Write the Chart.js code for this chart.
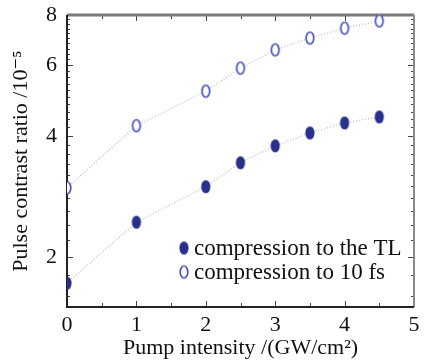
<!DOCTYPE html>
<html>
<head>
<meta charset="utf-8">
<script src="https://cdn.jsdelivr.net/npm/chart.js@4/dist/chart.umd.min.js"></script>
<style>
  html, body { margin: 0; padding: 0; background: #fff; }
  #wrap { width: 425px; height: 361px; }
</style>
</head>
<body>
<div id="wrap"><canvas id="chart" width="425" height="361"></canvas></div>
<script>
// данные с картинки
const pumpIntensity = [0, 1, 2, 2.5, 3, 3.5, 4, 4.5];
const contrastTL = [1.72, 2.44, 2.99, 3.43, 3.78, 4.07, 4.31, 4.46];
const contrast10fs = [2.97, 4.24, 5.17, 5.90, 6.55, 7.01, 7.42, 7.73];
const seriesNames = ['compression to the TL', 'compression to 10 fs'];
const yTicks = [2, 4, 6, 8];
const xTicks = [0, 1, 2, 3, 4, 5];

const serif = '"Liberation Serif", "DejaVu Serif", serif';

// маркеры-эллипсы
function ellipseMarker(filled) {
  const c = document.createElement('canvas');
  c.width = 12; c.height = 15;
  const g = c.getContext('2d');
  g.beginPath();
  g.ellipse(6, 7.5, filled ? 4.6 : 3.8, filled ? 6.6 : 6, 0, 0, Math.PI * 2);
  if (filled) {
    g.fillStyle = '#28308c';
    g.fill();
  } else {
    g.fillStyle = '#fff';
    g.fill();
    g.lineWidth = 1.7;
    g.strokeStyle = '#4a52b8';
    g.stroke();
  }
  return c;
}
const markerFilled = ellipseMarker(true);
const markerOpen = ellipseMarker(false);

const toPoints = (ys) => pumpIntensity.map((x, i) => ({ x: x, y: ys[i] }));

// рамка и засечки внутрь
const framePlugin = {
  id: 'frame',
  beforeDatasetsDraw(chart) {
    const { ctx, chartArea: a, scales } = chart;
    const xs = scales.x, ys = scales.y;
    ctx.save();
    ctx.strokeStyle = '#444';
    ctx.lineWidth = 1;
    // x засечки (основные и через 0.5)
    for (let v = 0.5; v < 5; v += 0.5) {
      const px = Math.round(xs.getPixelForValue(v)) + 0.5;
      const len = (v % 1 === 0) ? 6 : 4;
      ctx.beginPath();
      ctx.moveTo(px, a.bottom); ctx.lineTo(px, a.bottom - len);
      ctx.moveTo(px, a.top); ctx.lineTo(px, a.top + len);
      ctx.stroke();
    }
    // y засечки
    for (let v = 1.6; v < 8; v += 0.2) {
      const val = Math.round(v * 10) / 10;
      const py = Math.round(ys.getPixelForValue(val)) + 0.5;
      const len = yTicks.includes(val) ? 6 : 3;
      ctx.beginPath();
      ctx.moveTo(a.left, py); ctx.lineTo(a.left + len, py);
      ctx.moveTo(a.right, py); ctx.lineTo(a.right - len, py);
      ctx.stroke();
    }
    // рамка
    ctx.lineWidth = 3;
    ctx.strokeStyle = '#7a7a7a';
    ctx.beginPath();
    ctx.moveTo(a.left, a.top); ctx.lineTo(a.right, a.top);
    ctx.stroke();
    ctx.lineWidth = 2;
    ctx.strokeStyle = '#8a8a8a';
    ctx.beginPath();
    ctx.moveTo(a.right, a.top); ctx.lineTo(a.right, a.bottom);
    ctx.stroke();
    ctx.strokeStyle = '#222';
    ctx.beginPath();
    ctx.moveTo(a.left, a.top); ctx.lineTo(a.left, a.bottom); ctx.lineTo(a.right, a.bottom);
    ctx.stroke();
    ctx.restore();
  }
};

// легенда внутри графика
const legendPlugin = {
  id: 'innerLegend',
  afterDatasetsDraw(chart) {
    const { ctx, chartArea: a } = chart;
    const markers = [markerFilled, markerOpen];
    ctx.save();
    ctx.font = '23px ' + serif;
    ctx.fillStyle = '#111';
    ctx.textBaseline = 'middle';
    seriesNames.forEach((name, i) => {
      const y = a.bottom - 59 + i * 24;
      const mx = a.left + 117;
      ctx.drawImage(markers[i], mx - 6, y - 7.5);
      ctx.fillText(name, mx + 10, y + 1);
    });
    ctx.restore();
  }
};

new Chart(document.getElementById('chart'), {
  type: 'line',
  data: {
    datasets: [
      {
        label: seriesNames[0],
        data: toPoints(contrastTL),
        borderColor: '#c8c8c8',
        borderWidth: 1.5,
        borderDash: [1, 2],
        pointStyle: markerFilled,
        tension: 0
      },
      {
        label: seriesNames[1],
        data: toPoints(contrast10fs),
        borderColor: '#c8c8c8',
        borderWidth: 1.5,
        borderDash: [1, 2],
        pointStyle: markerOpen,
        tension: 0
      }
    ]
  },
  options: {
    responsive: false,
    animation: false,
    layout: { padding: { top: 15, right: 11, left: 0, bottom: 0 } },
    plugins: {
      legend: { display: false },
      tooltip: { enabled: false }
    },
    scales: {
      x: {
        type: 'linear',
        min: 0,
        max: 5,
        afterBuildTicks(scale) { scale.ticks = xTicks.map(v => ({ value: v })); },
        afterFit(scale) { scale.height = 54; scale.paddingRight = 0; scale.paddingLeft = 0; },
        grid: { display: false, drawTicks: false },
        border: { display: false },
        ticks: {
          padding: 5,
          color: '#111',
          font: { family: serif, size: 22 },
          maxRotation: 0
        },
        title: {
          display: true,
          text: 'Pump intensity /(GW/cm²)',
          color: '#111',
          font: { family: serif, size: 22 },
          padding: { top: 0, bottom: 0 }
        }
      },
      y: {
        type: 'logarithmic',
        min: 1.5,
        max: 8,
        afterBuildTicks(scale) { scale.ticks = yTicks.map(v => ({ value: v })); },
        afterFit(scale) { scale.width = 67; scale.paddingTop = 0; scale.paddingBottom = 0; },
        grid: { display: false, drawTicks: false },
        border: { display: false },
        ticks: {
          padding: 10,
          color: '#111',
          font: { family: serif, size: 22 },
          callback: (v) => String(v)
        },
        title: {
          display: true,
          text: 'Pulse contrast ratio /10⁻⁵',
          color: '#111',
          font: { family: serif, size: 22 },
          padding: { top: 8, bottom: 0 }
        }
      }
    }
  },
  plugins: [framePlugin, legendPlugin]
});
</script>
</body>
</html>
